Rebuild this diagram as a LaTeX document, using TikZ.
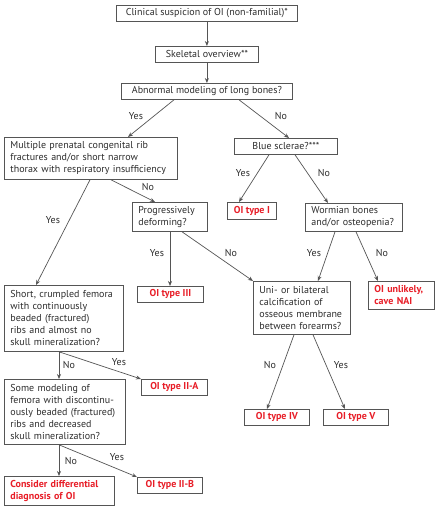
\documentclass[tikz,border=0pt]{standalone}
\usepackage{fontspec}
\setmainfont{PT Sans}
\usetikzlibrary{arrows.meta}
\definecolor{txt}{RGB}{45,45,45}
\definecolor{edge}{RGB}{85,85,85}
\definecolor{oired}{RGB}{232,30,40}
\tikzset{
  box/.style={draw=edge, line width=0.8pt, text=txt, inner xsep=6pt, inner ysep=0pt,
    font=\fontsize{10}{12}\selectfont},
  lbox/.style={box, align=left, anchor=north west},
  cbox/.style={box, align=center, anchor=north west, inner xsep=0pt},
  rbox/.style={box, text=oired, font=\fontsize{10}{12}\selectfont\bfseries, align=center, anchor=north west, inner xsep=0pt},
  rlbox/.style={box, text=oired, font=\fontsize{10}{12}\selectfont\bfseries, align=left, anchor=north west},
  conn/.style={draw=edge, line width=0.7pt, -{Stealth[length=5pt,width=4pt]}},
  lab/.style={text=txt, font=\fontsize{10}{12}\selectfont, inner sep=0pt}
}
\newcommand{\bx}[7]{% style, name, left, top, width, height, text
  \node[#1, minimum width=#5pt, minimum height=#6pt, text width={#5pt-12pt}] (#2) at (#3,#4) {#7};}
\newcommand{\sbx}[7]{% single-line box
  \node[#1, minimum width=#5pt, minimum height=#6pt] (#2) at (#3,#4) {#7};}
\begin{document}
\begin{tikzpicture}[x=1pt,y=-1pt]
\useasboundingbox[fill=white] (0,0) rectangle (439,510);
% boxes
\sbx{cbox}{b1}{116}{5}{181}{16}{Clinical suspicion of OI (non-familial)*}
\sbx{cbox}{b2}{155}{46}{103}{16}{Skeletal overview**}
\sbx{cbox}{b3}{121}{83}{171}{16}{Abnormal modeling of long bones?}
\bx{lbox}{b4}{4}{137}{173}{42}{Multiple prenatal congenital rib\\fractures and/or short narrow\\thorax with respiratory insufficiency}
\sbx{cbox}{b5}{234}{138}{103}{16}{Blue sclerae?***}
\sbx{rbox}{b6}{227}{202}{49}{17}{OI type I}
\bx{lbox}{b7}{305}{203}{97}{28}{Wormian bones\\and/or osteopenia?}
\bx{lbox}{b8}{132}{202}{75}{29}{Progressively\\deforming?}
\sbx{rbox}{b9}{137}{286}{66}{16}{OI type III}
\bx{lbox}{b10}{253}{281}{97}{53}{Uni- or bilateral\\calcification of\\osseous membrane\\between forearms?}
\bx{rlbox}{b11}{368}{281}{66}{28}{OI unlikely,\\cave NAI}
\bx{lbox}{b12}{4}{285}{119}{66}{Short, crumpled femora\\with continuously\\beaded (fractured)\\ribs and almost no\\skull mineralization?}
\sbx{rbox}{b13}{141}{379}{66}{16}{OI type II-A}
\bx{lbox}{b14}{4}{379}{121}{65}{Some modeling of\\femora with discontinu-\\ously beaded (fractured)\\ribs and decreased\\skull mineralization?}
\bx{rlbox}{b15}{4}{476}{110}{29}{Consider differential\\diagnosis of OI}
\sbx{rbox}{b16}{137}{477}{65}{16}{OI type II-B}
\sbx{rbox}{b17}{244}{409}{65}{16}{OI type IV}
\sbx{rbox}{b18}{323}{409}{65}{16}{OI type V}
% connectors
\draw[conn] (b1.south) -- (b2.north);
\draw[conn] (b2.south) -- (b3.north);
\draw[conn] ([xshift=53pt]b3.south west) -- ([xshift=124pt]b4.north west);
\draw[conn] ([xshift=118pt]b3.south west) -- ([xshift=55pt]b5.north west);
\draw[conn] ([xshift=35pt]b5.south west) -- ([xshift=12pt]b6.north west);
\draw[conn] ([xshift=61pt]b5.south west) -- ([xshift=23pt]b7.north west);
\draw[conn] ([xshift=86pt]b4.south west) -- ([xshift=32pt]b12.north west);
\draw[conn] ([xshift=107pt]b4.south west) -- ([xshift=23pt]b8.north west);
\draw[conn] ([xshift=38pt]b8.south west) -- ([xshift=33pt]b9.north west);
\draw[conn] ([xshift=50pt]b8.south west) -- ([xshift=0pt]b10.north west);
\draw[conn] ([xshift=30pt]b7.south west) -- ([xshift=65pt]b10.north west);
\draw[conn] ([xshift=51pt]b7.south west) -- ([xshift=10pt]b11.north west);
\draw[conn] ([xshift=55pt]b12.south west) -- ([xshift=55pt]b14.north west);
\draw[conn] ([xshift=55pt]b12.south west) -- (b13.north west);
\draw[conn] ([xshift=55pt]b14.south west) -- ([xshift=55pt]b15.north west);
\draw[conn] ([xshift=55pt]b14.south west) -- (b16.north west);
\draw[conn] ([xshift=41pt]b10.south west) -- ([xshift=23pt]b17.north west);
\draw[conn] ([xshift=60pt]b10.south west) -- ([xshift=22pt]b18.north west);
% labels
\node[lab] (l1) at (136,116) {Yes};
\node[lab] (l2) at (281,116) {No};
\node[lab] (l3) at (243,173) {Yes};
\node[lab] (l4) at (324,173) {No};
\node[lab] (l5) at (53,220) {Yes};
\node[lab] (l6) at (148,187) {No};
\node[lab] (l7) at (157,253) {Yes};
\node[lab] (l8) at (231,253) {No};
\node[lab] (l9) at (314,253) {Yes};
\node[lab] (l10) at (382,253) {No};
\node[lab] (l11) at (69,365) {No};
\node[lab] (l12) at (119,362) {Yes};
\node[lab] (l13) at (71,461) {No};
\node[lab] (l14) at (117,457) {Yes};
\node[lab] (l15) at (270,365) {No};
\node[lab] (l16) at (341,365) {Yes};
\end{tikzpicture}
\end{document}
